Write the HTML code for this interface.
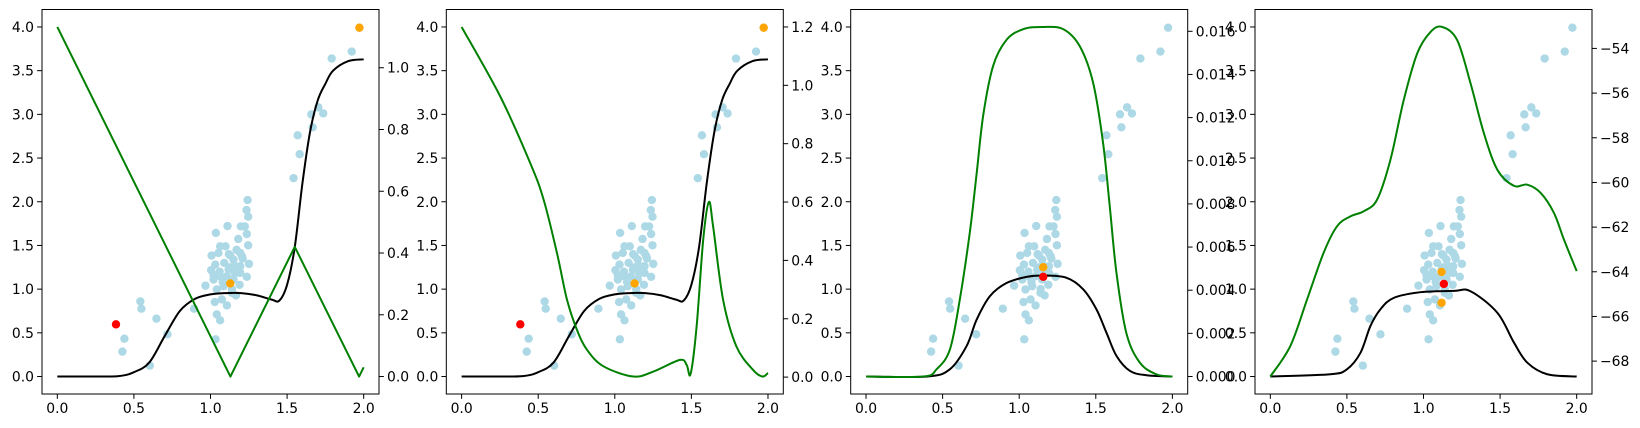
<!DOCTYPE html>
<html><head><meta charset="utf-8"><style>
html,body{margin:0;padding:0;background:#fff;}
svg{display:block;font-family:"DejaVu Sans","Liberation Sans",sans-serif;}
</style></head><body>
<svg id="fig" width="1640" height="428" viewBox="0 0 1640 428" xmlns="http://www.w3.org/2000/svg"></svg>
<script>
// ---- shared data ----
const scatterX = [.425,.438,.542,.549,.604,.647,.719,.893,.967,1.007,1.035,1.033,1.041,1.063,1.111,1.028,1.242,1.235,1.246,1.237,1.198,1.224,1.181,1.246,1.251,1.237,1.107,1.166,1.063,1.098,1.052,1.031,1.004,1.129,1.150,1.194,1.205,1.161,1.194,1.063,1.020,1.107,1.150,1.041,1.085,1.139,1.074,1.194,1.118,1.09,1.13,1.17,1.21,1.06,1.12,1.16,1.08,1.19,1.14,1.02,1.542,1.569,1.582,1.658,1.667,1.704,1.736,1.791,1.922,1.972];
const scatterY = [.285,.433,.859,.776,.125,.662,.483,.776,1.04,1.384,1.643,.426,.711,.643,1.722,.852,2.019,1.905,1.829,1.631,1.718,1.718,1.574,1.502,1.289,1.141,.814,.928,1.49,1.49,1.414,1.281,1.217,1.384,1.338,1.414,1.376,1.262,1.186,1.148,1.11,1.148,1.11,.996,1.034,.958,.882,1.262,1.224,1.30,1.25,1.45,1.35,1.20,1.40,1.18,1.08,1.05,1.00,1.16,2.27,2.76,2.544,3.0,2.852,3.08,3.011,3.639,3.719,3.992];
const redX1=[.383], redY1=[.597];
const orangeX1=[1.129,1.972], orangeY1=[1.065,3.992];

// panel 1 & 2 black curve (left axis)
const blackAX=[0,.2,.4,.5,.6,.7,.8,.9,1.0,1.1,1.2,1.3,1.4,1.45,1.5,1.55,1.6,1.65,1.7,1.75,1.8,1.9,2.0];
const blackAY=[0,0,.005,.05,.16,.46,.75,.89,.94,.955,.955,.93,.88,.87,1.05,1.48,2.21,2.8,3.16,3.35,3.5,3.61,3.63];
// panel 1 green (right axis)
const green1X=[0,1.13,1.55,1.97,2.0];
const green1Y=[1.132,0,.42,0,.03];
const ticks1R=[0,.2,.4,.6,.8,1.0];
// panel 2 green
const green2X=[0,.254,.449,.536,.623,.688,.753,.818,.926,1.121,1.252,1.425,1.469,1.495,1.534,1.577,1.614,1.642,1.707,1.794,1.902,1.963,2.0];
const green2Y=[1.2,.96,.732,.607,.424,.265,.162,.094,.037,.002,.019,.059,.042,.011,.173,.47,.6,.516,.265,.105,.025,.002,.014];
const ticks2R=[0,.2,.4,.6,.8,1.0,1.2];
// panel 3
const black3X=[0,.4,.548,.657,.722,.809,.917,1.048,1.157,1.309,1.417,1.504,1.57,1.635,1.722,1.83,2.0];
const black3Y=[0,0,.084,.35,.65,.92,1.07,1.14,1.156,1.13,1.0,.77,.5,.236,.065,.015,0];
const green3X=[0,.374,.461,.548,.613,.678,.722,.765,.83,.917,1.026,1.152,1.287,1.396,1.483,1.548,1.591,1.635,1.7,1.787,1.896,2.0];
const green3Y=[0,0,.00034,.00126,.0036,.0067,.0094,.0121,.0144,.0156,.0161,.0162,.0161,.0153,.0136,.0108,.0079,.0048,.002,.00065,.0001,0];
const ticks3R=[0,.002,.004,.006,.008,.010,.012,.014,.016];
const red3X=[1.157], red3Y=[1.141], orange3X=[1.157], orange3Y=[1.251];
// panel 4
const black4X=[0,.392,.5,.588,.654,.719,.806,.98,1.2,1.307,1.482,1.59,1.677,1.808,2.0];
const black4Y=[0,.026,.083,.27,.58,.77,.90,.965,.98,.976,.73,.39,.16,.026,0];
const green4X=[0,.131,.24,.348,.436,.523,.61,.697,.784,.871,.959,1.046,1.122,1.22,1.307,1.394,1.482,1.59,1.677,1.765,1.852,1.917,2.0];
const green4Y=[-68.69,-67.32,-65.24,-63.15,-61.96,-61.52,-61.29,-60.77,-58.99,-56.31,-54.22,-53.26,-53.04,-53.63,-55.56,-57.79,-59.43,-60.15,-60.10,-60.47,-61.37,-62.56,-63.97];
const ticks4R=[-68,-66,-64,-62,-60,-58,-56,-54];
const red4X=[1.133], red4Y=[1.06], orange4X=[1.118,1.118], orange4Y=[1.197,.844];

const ticksX=[0,.5,1.0,1.5,2.0];
const ticksL=[0,.5,1.0,1.5,2.0,2.5,3.0,3.5,4.0];

const NS="http://www.w3.org/2000/svg";
const svg=document.getElementById('fig');
function mk(tag,attrs,parent){const e=document.createElementNS(NS,tag);for(const k in attrs)e.setAttribute(k,attrs[k]);(parent||svg).appendChild(e);return e;}

function smoothPath(xs,ys,sx,sy){
  const P=xs.map((x,i)=>[sx(x),sy(ys[i])]);
  let d=`M${P[0][0].toFixed(2)},${P[0][1].toFixed(2)}`;
  for(let i=0;i<P.length-1;i++){
    const p0=P[Math.max(i-1,0)],p1=P[i],p2=P[i+1],p3=P[Math.min(i+2,P.length-1)];
    const c1=[p1[0]+(p2[0]-p0[0])/6,p1[1]+(p2[1]-p0[1])/6];
    const c2=[p2[0]-(p3[0]-p1[0])/6,p2[1]-(p3[1]-p1[1])/6];
    d+=` C${c1[0].toFixed(2)},${c1[1].toFixed(2)} ${c2[0].toFixed(2)},${c2[1].toFixed(2)} ${p2[0].toFixed(2)},${p2[1].toFixed(2)}`;
  }
  return d;
}
function linePath(xs,ys,sx,sy){return xs.map((x,i)=>(i?'L':'M')+sx(x).toFixed(2)+','+sy(ys[i]).toFixed(2)).join(' ');}

const TOP=9.5,BOT=394,W=337;
const lefts=[42,446.3,850.7,1255];
const panels=[
 {bx:blackAX,by:blackAY,gx:green1X,gy:green1Y,gLinear:true,rt:ticks1R,rfmt:v=>v.toFixed(1),red:[redX1,redY1],orange:[orangeX1,orangeY1]},
 {bx:blackAX,by:blackAY,gx:green2X,gy:green2Y,rt:ticks2R,rfmt:v=>v.toFixed(1),red:[redX1,redY1],orange:[orangeX1,orangeY1]},
 {bx:black3X,by:black3Y,gx:green3X,gy:green3Y,rt:ticks3R,rfmt:v=>v.toFixed(3),red:[red3X,red3Y],orange:[orange3X,orange3Y]},
 {bx:black4X,by:black4Y,gx:green4X,gy:green4Y,rt:ticks4R,rfmt:v=>(v<0?'\u2212':'')+Math.abs(v).toFixed(0),red:[red4X,red4Y],orange:[orange4X,orange4Y]}
];

panels.forEach((p,i)=>{
  const L=lefts[i],R=L+W;
  const g=mk('g',{});
  
  
  const sx=x=>L+(x+0.1)/2.2*W;
  const sy=y=>BOT-(y+0.2)/4.4*(BOT-TOP);
  const gmin=Math.min(...p.gy),gmax=Math.max(...p.gy),m=(gmax-gmin)*0.05;
  const rlo=gmin-m,rhi=gmax+m;
  const sr=v=>BOT-(v-rlo)/(rhi-rlo)*(BOT-TOP);
  const cid='clip'+i;
  const cp=mk('clipPath',{id:cid},g);mk('rect',{x:L,y:TOP,width:W,height:BOT-TOP},cp);
  const plot=mk('g',{'clip-path':`url(#${cid})`},g);
  // scatter
  scatterX.forEach((x,k)=>{
    const c=mk('circle',{cx:sx(x),cy:sy(scatterY[k]),r:4.2,fill:'#add8e6'},plot);
    
    
  });
  const bl=mk('path',{d:smoothPath(p.bx,p.by,sx,sy),fill:'none',stroke:'#000','stroke-width':2},plot);
  
  
  p.orange[0].forEach((x,k)=>{
    const c=mk('circle',{cx:sx(x),cy:sy(p.orange[1][k]),r:4.2,fill:'#ffa500'},plot);
    
    
  });
  p.red[0].forEach((x,k)=>{
    const c=mk('circle',{cx:sx(x),cy:sy(p.red[1][k]),r:4.2,fill:'#ff0000'},plot);
    
    
  });
  const gl=mk('path',{d:p.gLinear?linePath(p.gx,p.gy,sx,sr):smoothPath(p.gx,p.gy,sx,sr),fill:'none',stroke:'#008000','stroke-width':2,'stroke-linejoin':'round'},plot);
  
  
  // frame
  const fr=mk('rect',{x:L,y:TOP,width:W,height:BOT-TOP,fill:'none',stroke:'#000','stroke-width':1},g);
  
  
  // x ticks
  ticksX.forEach(t=>{
    const x=sx(t);
    mk('line',{x1:x,x2:x,y1:BOT,y2:BOT+4.9,stroke:'#000','stroke-width':1},g);
    const tx=mk('text',{x:x,y:BOT+19,'font-size':13.9,'text-anchor':'middle',fill:'#000'},g);
    tx.textContent=t.toFixed(1);
    
    
  });
  ticksL.forEach(t=>{
    const y=sy(t);
    mk('line',{x1:L-4.9,x2:L,y1:y,y2:y,stroke:'#000','stroke-width':1},g);
    const tx=mk('text',{x:L-8,y:y+5,'font-size':13.9,'text-anchor':'end',fill:'#000'},g);
    tx.textContent=t.toFixed(1);
    
    
  });
  p.rt.forEach(t=>{
    const y=sr(t);
    mk('line',{x1:R,x2:R+4.9,y1:y,y2:y,stroke:'#000','stroke-width':1},g);
    const tx=mk('text',{x:R+8,y:y+5,'font-size':13.9,'text-anchor':'start',fill:'#000'},g);
    tx.textContent=p.rfmt(t);
    
    
  });
});
</script>
</body></html>
